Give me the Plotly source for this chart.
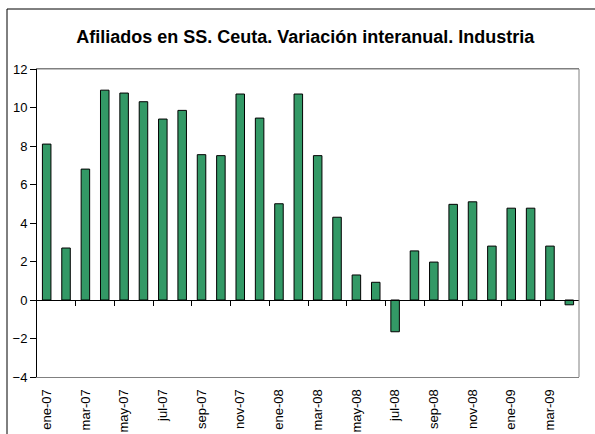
import plotly.graph_objects as go

months = ["ene", "feb", "mar", "abr", "may", "jun", "jul", "ago", "sep", "oct", "nov", "dic"]
categories = [f"{m}-07" for m in months] + [f"{m}-08" for m in months] + [f"{m}-09" for m in months[:4]]
values = [8.1, 2.7, 6.8, 10.9, 10.75, 10.3, 9.4, 9.85, 7.55, 7.5,
          10.7, 9.45, 5.0, 10.7, 7.5, 4.3, 1.3, 0.92, -1.65, 2.55,
          1.97, 4.97, 5.1, 2.8, 4.77, 4.77, 2.8, -0.25]
y_ticks = [-4, -2, 0, 2, 4, 6, 8, 10, 12]

n = len(categories)
idx = list(range(n))
label_idx = idx[::2]
label_txt = [categories[i] for i in label_idx]
boundary_ticks = [i + 1.5 for i in range(0, n - 2, 2)]

W, H = 595, 434
L, R, T, B = 37, 16, 69, 57
ymin, ymax = -4, 12
zero_pos = (0 - ymin) / (ymax - ymin)
FONT = "Liberation Sans, Arial, sans-serif"

fig = go.Figure()
fig.add_trace(go.Bar(
    x=idx, y=values, width=0.44,
    marker=dict(color="#339966", line=dict(color="black", width=1)),
    hoverinfo="skip", showlegend=False,
))
fig.add_trace(go.Scatter(x=[0, n - 1], y=[0, 0], xaxis="x2", mode="markers",
                         marker=dict(opacity=0), hoverinfo="skip", showlegend=False))

fig.update_layout(
    width=W, height=H,
    margin=dict(l=L, r=R, t=T, b=B, autoexpand=False),
    paper_bgcolor="white", plot_bgcolor="white",
    font=dict(family=FONT, size=13, color="black"),
    title=dict(text="<b>Afiliados en SS. Ceuta. Variación interanual. Industria</b>",
               x=0.513, xanchor="center", y=1 - 37 / H, yanchor="middle",
               font=dict(family=FONT, size=18, color="black")),
    xaxis=dict(range=[-0.5, n - 0.5], tickvals=label_idx, ticktext=label_txt,
               tickangle=-90, ticks="", showgrid=False, zeroline=False, automargin=False,
               showline=True, linecolor="#808080", linewidth=1, mirror=True,
               tickfont=dict(family=FONT, size=13), ticklabelstandoff=6),
    xaxis2=dict(overlaying="x", anchor="free", position=zero_pos, matches="x",
                range=[-0.5, n - 0.5], tickvals=boundary_ticks, ticktext=[""] * len(boundary_ticks),
                ticks="outside", ticklen=5, tickcolor="black", showline=True, automargin=False,
                linecolor="black", linewidth=1, showgrid=False, zeroline=False, side="bottom"),
    yaxis=dict(range=[ymin, ymax], tickvals=y_ticks, ticks="outside", ticklen=6,
               tickcolor="black", showgrid=False, zeroline=False, automargin=False,
               showline=True, linecolor="black", linewidth=1,
               tickfont=dict(family=FONT, size=13)),
    shapes=[
        dict(type="line", xref="paper", yref="paper", x0=1, x1=1, y0=0, y1=1,
             line=dict(color="#808080", width=1)),
        dict(type="line", xref="paper", yref="paper", x0=0, x1=1, y0=1, y1=1,
             line=dict(color="#808080", width=1)),
        dict(type="rect", xref="paper", yref="paper",
             x0=(7 - L) / (W - L - R), x1=1.2,
             y0=-0.5, y1=1 + (T - 9) / (H - T - B),
             line=dict(color="black", width=1), fillcolor="rgba(0,0,0,0)", layer="below"),
    ],
)

fig.write_html("out.html", config={"displayModeBar": False},
               post_script="document.body.style.margin='0';document.body.style.padding='0';")
